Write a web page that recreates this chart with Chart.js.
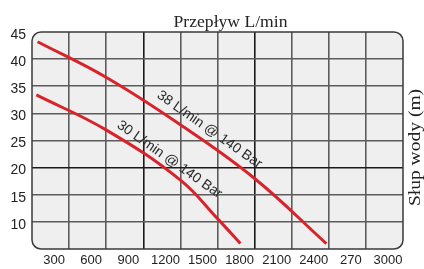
<!DOCTYPE html>
<html>
<head>
<meta charset="utf-8">
<script src="https://cdn.jsdelivr.net/npm/chart.js@4"></script>
<style>
  html, body { margin: 0; padding: 0; background: #fff; }
  #wrap { width: 424px; height: 269px; }
</style>
</head>
<body>
<div id="wrap"><canvas id="chart" width="424" height="269"></canvas></div>
<script>
// values
const flow38 = [45, 595, 1200, 1800, 2380];
const head38 = [43.2, 36.7, 27.9, 18.0, 6.0];
const flow30 = [35, 595, 1200, 1500, 1685];
const head30 = [33.4, 27.0, 17.7, 10.6, 6.0];
const xTickLabels = ['300', '600', '900', '1200', '1500', '1800', '2100', '2400', '270', '3000'];
const seriesNames = ['38 L/min @ 140 Bar', '30 L/min @ 140 Bar'];
const xTitle = 'Przepływ L/min';
const yTitle = 'Słup wody (m)';

const toPoints = (xs, ys) => xs.map((x, i) => ({ x: x, y: ys[i] }));

const frame = {
  id: 'frame',
  beforeDraw(chart) {
    const { ctx, chartArea: a } = chart;
    ctx.save();
    ctx.beginPath();
    ctx.roundRect(a.left, a.top, a.right - a.left, a.bottom - a.top, 9);
    ctx.fillStyle = '#efefef';
    ctx.fill();
    ctx.restore();
  },
  afterDraw(chart) {
    const { ctx, chartArea: a, scales } = chart;
    ctx.save();
    ctx.beginPath();
    ctx.roundRect(a.left, a.top, a.right - a.left, a.bottom - a.top, 9);
    ctx.strokeStyle = '#3a3a3a';
    ctx.lineWidth = 1.5;
    ctx.stroke();

    // axis titles
    ctx.fillStyle = '#222';
    ctx.textAlign = 'center';
    ctx.textBaseline = 'alphabetic';
    ctx.font = '16px "Liberation Serif", serif';
    ctx.save();
    ctx.translate((a.left + a.right) / 2 + 13, a.top - 5);
    ctx.scale(1.1, 1);
    ctx.fillText(xTitle, 0, 0);
    ctx.restore();

    ctx.save();
    ctx.translate(a.right + 16.5, (a.top + a.bottom) / 2 + 7);
    ctx.rotate(-Math.PI / 2);
    ctx.scale(1.22, 1);
    ctx.fillText(yTitle, 0, 0);
    ctx.restore();

    // curve labels
    const anchors = [[1435, 27.0], [1112, 21.5]];
    ctx.font = '14px "Liberation Sans", Arial, sans-serif';
    ctx.fillStyle = '#2a2a2a';
    ctx.textBaseline = 'middle';
    seriesNames.forEach((name, i) => {
      const px = scales.x.getPixelForValue(anchors[i][0]);
      const py = scales.y.getPixelForValue(anchors[i][1]);
      ctx.save();
      ctx.translate(px, py);
      ctx.rotate(35 * Math.PI / 180);
      ctx.fillText(name, 0, 0);
      ctx.restore();
    });
    ctx.restore();
  }
};

new Chart(document.getElementById('chart'), {
  type: 'line',
  data: {
    datasets: [
      { label: seriesNames[0], data: toPoints(flow38, head38) },
      { label: seriesNames[1], data: toPoints(flow30, head30) }
    ]
  },
  options: {
    responsive: false,
    animation: false,
    layout: { padding: { top: 32, right: 21, left: 0, bottom: 0 } },
    elements: {
      line: { borderColor: '#d8232a', borderWidth: 3, tension: 0.4, borderCapStyle: 'butt' },
      point: { radius: 0 }
    },
    plugins: {
      legend: { display: false },
      tooltip: { enabled: false }
    },
    scales: {
      x: {
        type: 'linear',
        min: 0,
        max: 3000,
        afterFit: s => { s.height = 20; },
        border: { display: false },
        grid: {
          drawTicks: false,
          lineWidth: 1.6,
          color: c => {
            const v = c.tick.value;
            if (v <= 0 || v >= 3000) return 'rgba(0,0,0,0)';
            return (v === 900 || v === 1800) ? '#1a1a1a' : '#5c5c5c';
          }
        },
        ticks: {
          stepSize: 300,
          padding: 4,
          labelOffset: -15,
          color: '#222',
          font: { family: '"Liberation Sans", Arial, sans-serif', size: 13 },
          callback: (v) => v === 0 ? '' : xTickLabels[v / 300 - 1]
        }
      },
      y: {
        min: 5,
        max: 45,
        afterFit: s => { s.width = 32; },
        border: { display: false },
        grid: {
          drawTicks: false,
          lineWidth: 1.6,
          color: c => {
            const v = c.tick.value;
            if (v <= 5 || v >= 45) return 'rgba(0,0,0,0)';
            return v === 20 ? '#1a1a1a' : '#5c5c5c';
          }
        },
        ticks: {
          stepSize: 5,
          padding: 6,
          labelOffset: 3,
          color: '#222',
          font: { family: '"Liberation Sans", Arial, sans-serif', size: 14 },
          callback: (v) => v === 5 ? '' : v
        }
      }
    }
  },
  plugins: [frame]
});
</script>
</body>
</html>
